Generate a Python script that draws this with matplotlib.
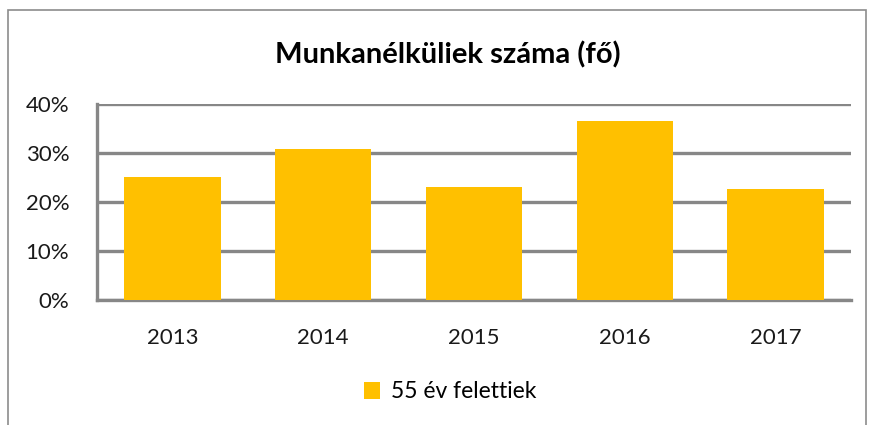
import matplotlib
matplotlib.use("Agg")
import matplotlib.pyplot as plt
from matplotlib.patches import Rectangle
from matplotlib.ticker import FuncFormatter

plt.rcParams['font.family'] = ['Lato', 'DejaVu Sans']

years = ["2013", "2014", "2015", "2016", "2017"]
values = [25.0, 30.7, 23.0, 36.5, 22.6]
series_name = "55 év felettiek"
title = "Munkanélküliek száma (fő)"
yticks = [0, 10, 20, 30, 40]

W, H = 869, 425
fig = plt.figure(figsize=(W / 100, H / 100), dpi=100)
fig.patch.set_facecolor("white")

# outer chart frame
fig.add_artist(Rectangle((8 / W, -0.05), (866 - 8) / W, (H - 10) / H + 0.05,
                         transform=fig.transFigure, fill=False,
                         edgecolor="#8c8c8c", linewidth=1.2))

ax = fig.add_axes([97 / W, 1 - 300 / H, (851 - 97) / W, (300 - 103.5) / H])
x = list(range(len(years)))
ax.bar(x, values, width=0.64, color="#FFC000", zorder=3, label=series_name)
ax.set_xlim(-0.5, len(years) - 0.5)
ax.set_ylim(0, 40)
ax.set_yticks(yticks)
ax.yaxis.set_major_formatter(FuncFormatter(lambda v, p: f"{int(v)}%"))
ax.set_xticks(x)
ax.set_xticklabels(years)
ax.grid(axis="y", color="#878787", linewidth=2.4, zorder=1)
for s in ["top", "right"]:
    ax.spines[s].set_visible(False)
for s in ["left", "bottom"]:
    ax.spines[s].set_color("#878787")
    ax.spines[s].set_linewidth(2.4)
ax.tick_params(axis="both", length=0, labelsize=16, colors="#1a1a1a")
ax.tick_params(axis="y", pad=20)
ax.tick_params(axis="x", pad=20)

fig.text(448 / W, 1 - 55 / H, title, ha="center", va="center",
         fontsize=21, fontweight="bold", color="#000000")

fig.legend(loc="center", bbox_to_anchor=(450 / W, 1 - 392 / H), frameon=False,
           fontsize=16.5, handlelength=0.7, handleheight=0.7, handletextpad=0.5)

fig.savefig("out.png", dpi=100, facecolor="white")
